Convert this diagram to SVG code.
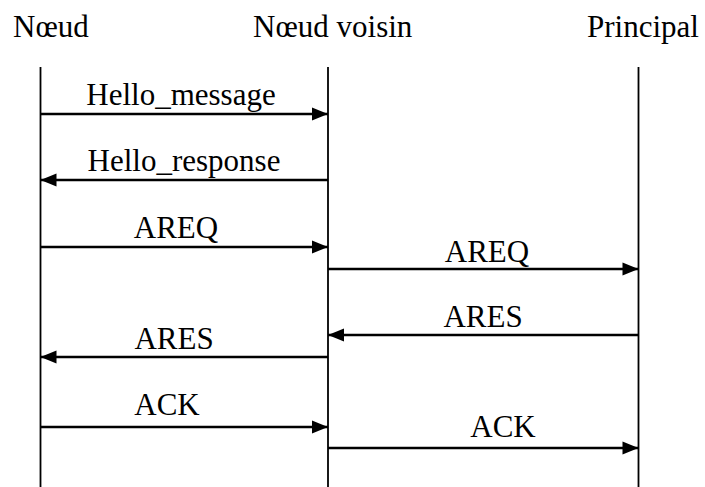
<svg xmlns="http://www.w3.org/2000/svg" width="705" height="487" viewBox="0 0 705 487">
  <style>
    .label { font-family: "Liberation Serif", "Times New Roman", serif; font-size: 31px; fill: #000; }
    .life { stroke: #000; stroke-width: 1.8; fill: none; }
    .msg { stroke: #000; stroke-width: 2.6; fill: none; marker-end: url(#head); }
  </style>
  <defs>
    <marker id="head" markerUnits="userSpaceOnUse" markerWidth="18" markerHeight="14" refX="17" refY="7" orient="auto">
      <path d="M1,0.5 L17,7 L1,13.5 Z" fill="#000"/>
    </marker>
  </defs>
  <rect width="705" height="487" fill="#fff"/>

  <!-- participants with their lifelines -->
  <g id="noeud">
    <text class="label" x="13" y="37">Nœud</text>
    <line class="life" x1="40.5" y1="67" x2="40.5" y2="487"/>
  </g>
  <g id="noeud-voisin">
    <text class="label" x="253" y="37">Nœud voisin</text>
    <line class="life" x1="328" y1="67" x2="328" y2="487"/>
  </g>
  <g id="principal">
    <text class="label" x="587" y="37">Principal</text>
    <line class="life" x1="638.5" y1="67" x2="638.5" y2="487"/>
  </g>

  <!-- messages exchanged between participants -->
  <g id="connectors">
    <line class="msg" x1="40.5" y1="114" x2="328" y2="114"/>
    <line class="msg" x1="328" y1="180" x2="40.5" y2="180"/>
    <line class="msg" x1="40.5" y1="247" x2="328" y2="247"/>
    <line class="msg" x1="328" y1="269" x2="638.5" y2="269"/>
    <line class="msg" x1="638.5" y1="335" x2="328" y2="335"/>
    <line class="msg" x1="328" y1="357" x2="40.5" y2="357"/>
    <line class="msg" x1="40.5" y1="427" x2="328" y2="427"/>
    <line class="msg" x1="328" y1="448" x2="638.5" y2="448"/>
  </g>

  <g id="message-labels" text-anchor="middle">
    <text class="label" x="181" y="105">Hello_message</text>
    <text class="label" x="184" y="171">Hello_response</text>
    <text class="label" x="176" y="238">AREQ</text>
    <text class="label" x="487" y="262">AREQ</text>
    <text class="label" x="483" y="327">ARES</text>
    <text class="label" x="174" y="349">ARES</text>
    <text class="label" x="167" y="415">ACK</text>
    <text class="label" x="503" y="437">ACK</text>
  </g>
</svg>
